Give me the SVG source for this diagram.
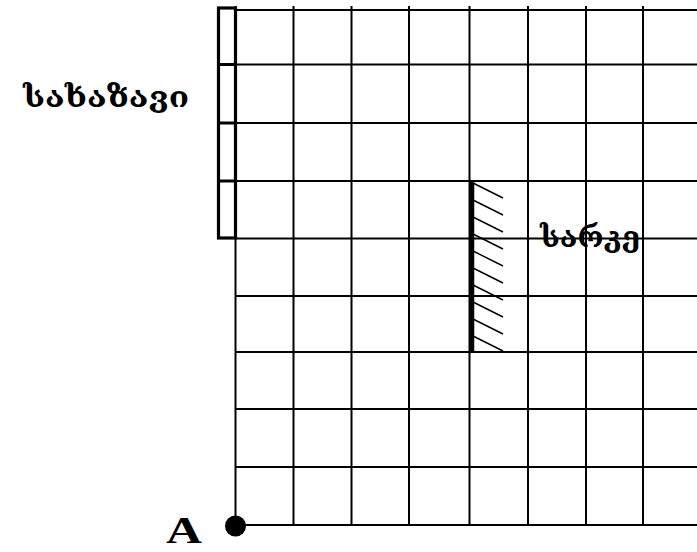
<svg xmlns="http://www.w3.org/2000/svg" width="697" height="552" viewBox="0 0 697 552">
<style>
.g{stroke:#000;stroke-width:2;fill:none}
.th{stroke:#000;stroke-width:3.2;fill:none}
.h{stroke:#000;stroke-width:1.4}
.geo{font-family:"DejaVu Serif","DejaVu Sans",serif;font-weight:bold;font-size:28px;fill:#000}
.lbl{font-family:"Liberation Serif",serif;font-weight:bold;font-size:37px;fill:#000}
</style>
<rect width="697" height="552" fill="#fff"/>
<g id="grid">
<path class="g" d="M235.5 6V525M293.5 6V525M351.5 6V525M409 6V525M469.5 6V525M528 6V525M586 6V525M643 6V525"/>
<path class="g" d="M235.5 10H697M235.5 64.5H697M235.5 123H697M235.5 181H697M235.5 238.5H697M235.5 296H697M235.5 352H697M235.5 409H697M235.5 467H697M235.5 525H697"/>
</g>
<g id="ruler">
<rect class="th" x="218.5" y="8" width="17" height="230"/>
<path class="th" d="M218.5 64.5H235.5M218.5 123H235.5M218.5 181H235.5"/>
<text class="geo" x="23" y="107" textLength="166" lengthAdjust="spacingAndGlyphs">სახაზავი</text>
</g>
<g id="mirror">
<line x1="472" y1="180" x2="472" y2="352" stroke="#000" stroke-width="4.5"/>
<path class="h" d="M473 183l30 15M473 200l30 15M473 217l30 15M473 234l30 15M473 251l30 15M473 268l30 15M473 285l30 15M473 302l30 15M473 319l30 15M473 336l30 15"/>
<text class="geo" x="540" y="247" textLength="100" lengthAdjust="spacingAndGlyphs">სარკე</text>
</g>
<g id="pointA">
<circle cx="235.5" cy="526" r="10.5" fill="#000"/>
<text class="lbl" x="166" y="543" textLength="36" lengthAdjust="spacingAndGlyphs">A</text>
</g>
<g id="connectors"></g>
</svg>
